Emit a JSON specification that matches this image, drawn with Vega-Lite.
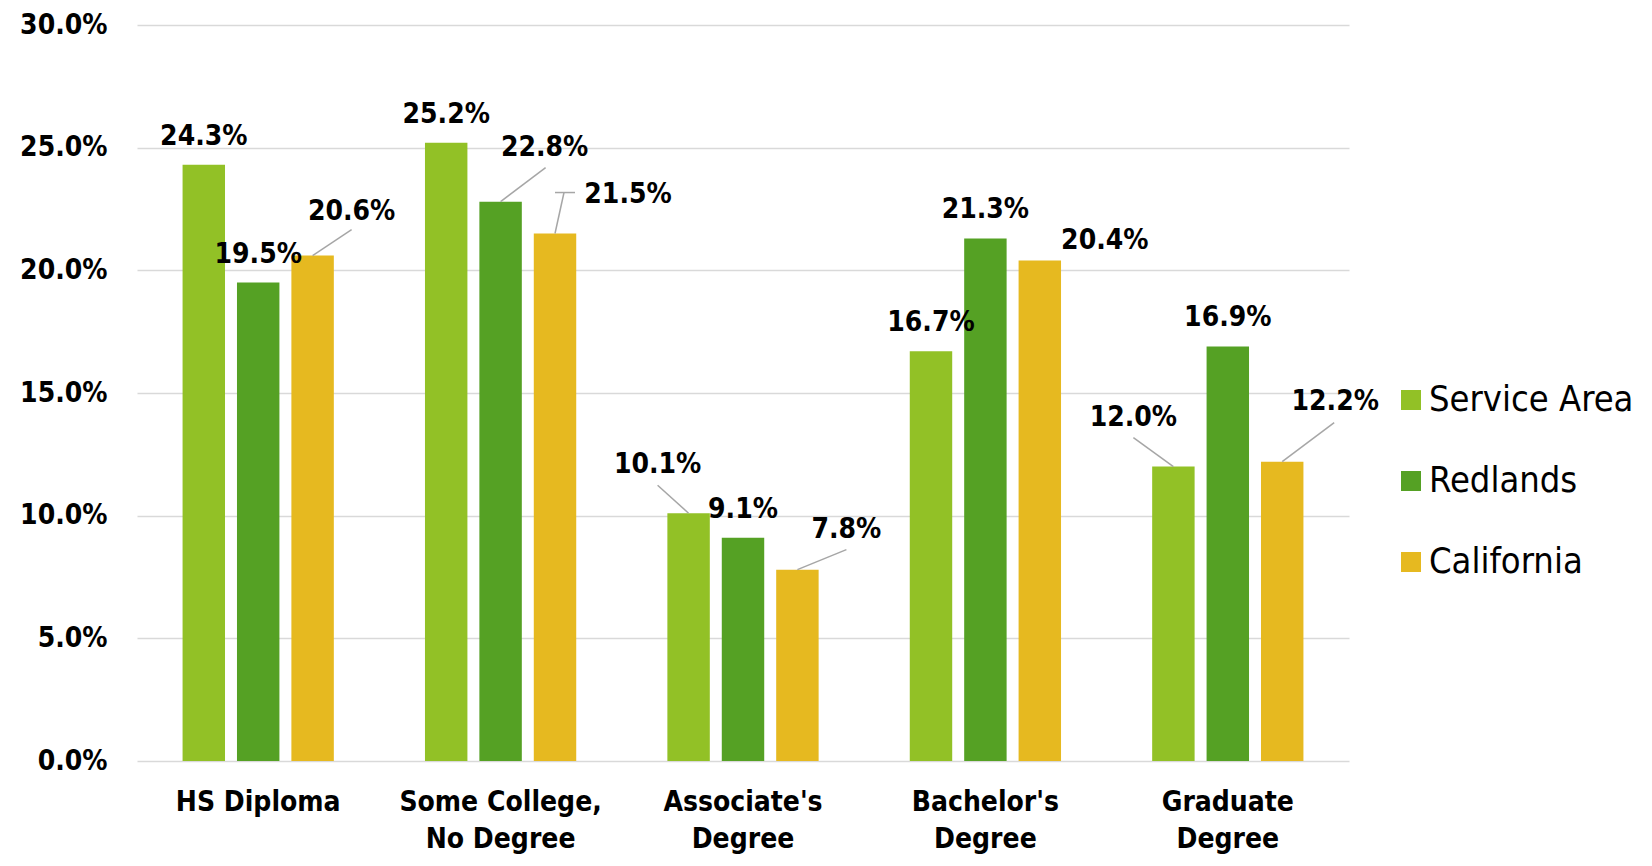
{
  "$schema": "https://vega.github.io/schema/vega-lite/v6.json",
  "width": 1212,
  "height": 736,
  "autosize": {"type": "none"},
  "padding": {"left": 137, "top": 25, "right": 303, "bottom": 105},
  "background": "white",
  "config": {"view": {"stroke": null}, "font": "DejaVu Sans Condensed"},
  "data": {
    "values": [
      {"level": "HS Diploma", "series": "Service Area", "value": 0.243},
      {"level": "HS Diploma", "series": "Redlands", "value": 0.195},
      {"level": "HS Diploma", "series": "California", "value": 0.206},
      {"level": "Some College, No Degree", "series": "Service Area", "value": 0.252},
      {"level": "Some College, No Degree", "series": "Redlands", "value": 0.228},
      {"level": "Some College, No Degree", "series": "California", "value": 0.215},
      {"level": "Associate's Degree", "series": "Service Area", "value": 0.101},
      {"level": "Associate's Degree", "series": "Redlands", "value": 0.091},
      {"level": "Associate's Degree", "series": "California", "value": 0.078},
      {"level": "Bachelor's Degree", "series": "Service Area", "value": 0.167},
      {"level": "Bachelor's Degree", "series": "Redlands", "value": 0.213},
      {"level": "Bachelor's Degree", "series": "California", "value": 0.204},
      {"level": "Graduate Degree", "series": "Service Area", "value": 0.120},
      {"level": "Graduate Degree", "series": "Redlands", "value": 0.169},
      {"level": "Graduate Degree", "series": "California", "value": 0.122}
    ]
  },
  "encoding": {
    "x": {
      "field": "level",
      "type": "nominal",
      "sort": ["HS Diploma", "Some College, No Degree", "Associate's Degree", "Bachelor's Degree", "Graduate Degree"],
      "scale": {"paddingInner": 0.376, "paddingOuter": 0.188},
      "title": null,
      "axis": {
        "domain": false,
        "ticks": false,
        "labelAngle": 0,
        "labelFont": "DejaVu Sans Condensed",
        "labelFontSize": 28,
        "labelFontWeight": "bold",
        "labelColor": "#000000",
        "labelLineHeight": 37,
        "labelPadding": 27,
        "labelLimit": 500,
        "labelExpr": "datum.label == 'HS Diploma' ? datum.label : indexof(datum.label, ',') > 0 ? [slice(datum.label, 0, indexof(datum.label, ',') + 1), slice(datum.label, indexof(datum.label, ',') + 2)] : [slice(datum.label, 0, lastindexof(datum.label, ' ')), slice(datum.label, lastindexof(datum.label, ' ') + 1)]"
      }
    },
    "xOffset": {
      "field": "series",
      "type": "nominal",
      "sort": ["Service Area", "Redlands", "California"],
      "scale": {"paddingInner": 0.22, "paddingOuter": 0}
    },
    "y": {
      "field": "value",
      "type": "quantitative",
      "scale": {"domain": [0, 0.3]},
      "title": null,
      "axis": {
        "values": [0, 0.05, 0.1, 0.15, 0.2, 0.25, 0.3],
        "format": ".1%",
        "domain": false,
        "ticks": false,
        "grid": true,
        "gridColor": "#d9d9d9",
        "gridWidth": 1.5,
        "labelFont": "DejaVu Sans Condensed",
        "labelFontSize": 28,
        "labelFontWeight": "bold",
        "labelColor": "#000000",
        "labelPadding": 30
      }
    }
  },
  "layer": [
    {
      "mark": {"type": "bar"},
      "encoding": {
        "color": {
          "field": "series",
          "type": "nominal",
          "scale": {
            "domain": ["Service Area", "Redlands", "California"],
            "range": ["#92C126", "#55A124", "#E6B920"]
          },
          "legend": {
            "orient": "none",
            "legendX": 1256,
            "legendY": 357,
            "title": null,
            "symbolType": "square",
            "symbolSize": 400,
            "symbolStrokeWidth": 0,
            "labelFont": "DejaVu Sans Condensed",
            "labelFontSize": 36,
            "labelColor": "#000000",
            "labelOffset": 0,
            "labelLimit": 400,
            "rowPadding": 45
          }
        }
      }
    },
    {
      "transform": [
        {"filter": "(datum.series == 'California' && datum.level != \"Bachelor's Degree\") || (datum.series == 'Redlands' && datum.level == 'Some College, No Degree') || (datum.series == 'Service Area' && (datum.level == \"Associate's Degree\" || datum.level == 'Graduate Degree'))"}
      ],
      "mark": {
        "type": "rule",
        "color": "#a6a6a6",
        "strokeWidth": 1.5,
        "x2Offset": {"expr": "datum.series == 'California' ? (datum.level == 'HS Diploma' ? 93.4 : datum.level == 'Some College, No Degree' ? 63.4 : datum.level == \"Associate's Degree\" ? 103.4 : 106.4) : datum.series == 'Redlands' ? 45 : (datum.level == \"Associate's Degree\" ? -85.4 : -94.4)"},
        "y2Offset": {"expr": "datum.series == 'California' ? (datum.level == 'HS Diploma' ? -26 : datum.level == 'Some College, No Degree' ? -41 : datum.level == \"Associate's Degree\" ? -20 : -39) : datum.series == 'Redlands' ? -34 : (datum.level == \"Associate's Degree\" ? -28 : -29)"}
      },
      "encoding": {
        "x2": {"field": "level"},
        "y2": {"field": "value"}
      }
    },
    {
      "transform": [
        {"filter": "datum.series == 'California' && datum.level == 'Some College, No Degree'"}
      ],
      "mark": {
        "type": "rule",
        "color": "#a6a6a6",
        "strokeWidth": 1.5,
        "xOffset": 9,
        "yOffset": -41,
        "x2Offset": 74.4,
        "y2Offset": -41
      },
      "encoding": {
        "x2": {"field": "level"},
        "y2": {"field": "value"}
      }
    },
    {
      "mark": {
        "type": "text",
        "baseline": "alphabetic",
        "font": "DejaVu Sans Condensed",
        "fontSize": 28,
        "fontWeight": "bold",
        "color": "#000000",
        "dx": {"expr": "datum.series == 'California' ? (datum.level == 'HS Diploma' ? 39 : datum.level == 'Some College, No Degree' ? 73 : datum.level == \"Associate's Degree\" ? 49 : datum.level == \"Bachelor's Degree\" ? 65 : 53) : datum.series == 'Redlands' ? (datum.level == 'Some College, No Degree' ? 44 : 0) : (datum.level == \"Associate's Degree\" ? -31 : datum.level == 'Graduate Degree' ? -40 : 0)"},
        "dy": {"expr": "datum.series == 'California' ? (datum.level == 'HS Diploma' ? -36 : datum.level == 'Some College, No Degree' ? -31 : datum.level == \"Associate's Degree\" ? -32 : datum.level == \"Bachelor's Degree\" ? -12 : -52) : datum.series == 'Redlands' ? (datum.level == 'Some College, No Degree' ? -46 : -20) : (datum.level == \"Associate's Degree\" ? -40 : datum.level == 'Graduate Degree' ? -41 : -20)"}
      },
      "encoding": {
        "text": {"field": "value", "type": "quantitative", "format": ".1%"}
      }
    }
  ]
}
